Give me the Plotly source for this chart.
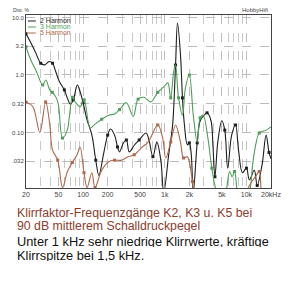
import plotly.graph_objects as go

# ---- data ----
k2_freq = [20, 23, 26.4, 30.3, 33.9, 38.4, 42.3, 46, 51.4, 59, 64, 70, 76, 85, 92, 100, 112, 128, 143, 156,
           179, 200, 217, 243, 264, 279, 312, 339, 368, 423, 486, 590, 641, 716, 800, 895, 972, 1117, 1248,
           1356, 1433, 1559, 1648, 1742, 1892, 2000, 2114, 2234, 2497, 2716, 3034, 3297, 3684, 3890, 4113,
           4470, 4999, 5432, 5902, 6593, 7363, 8000, 8951, 10000, 10870, 12480, 13560, 15580, 17420, 18920, 20000]
k2_vals = [5.2, 3.6, 2.4, 1.6, 1.5, 1.72, 1.6, 1.17, 0.76, 0.55, 0.40, 0.31, 0.37, 0.67, 0.51, 0.33, 0.165,
           0.091, 0.033, 0.018, 0.044, 0.09, 0.115, 0.09, 0.056, 0.046, 0.066, 0.074, 0.046, 0.06, 0.074, 0.098,
           0.074, 0.038, 0.068, 0.033, 0.009, 0.041, 0.135, 1.49, 8.0, 2.23, 0.40, 0.135, 0.061, 0.066, 0.041,
           0.009, 0.066, 0.16, 0.2, 0.22, 0.16, 0.06, 0.017, 0.07, 0.16, 0.11, 0.024, 0.09, 0.135, 0.05, 0.02,
           0.024, 0.015, 0.022, 0.012, 0.028, 0.09, 0.045, 0.035]

k3_freq = [20, 23, 27, 32, 35, 39, 42, 47, 50, 56, 64, 68, 74, 80, 92, 103, 122, 140, 169, 206, 243, 279,
           339, 411, 472, 556, 676, 822, 972, 1090, 1183, 1284, 1356, 1475, 1648, 1790, 2000, 2234, 2497,
           2716, 2950, 3376, 3770, 4330, 5000, 5600, 6230, 6700, 7160, 7780, 9000, 10870, 12000, 13200,
           14370, 17420, 20000]
k3_vals = [3.1, 1.8, 1.13, 0.67, 0.82, 0.55, 0.5, 0.4, 0.3, 0.08, 0.11, 0.19, 0.41, 0.34, 0.28, 0.37, 0.12,
           0.14, 0.17, 0.2, 0.21, 0.25, 0.33, 0.19, 0.38, 0.41, 0.34, 0.5, 0.62, 0.73, 0.4, 1.13, 1.5, 0.4,
           0.2, 0.59, 1.0, 0.2, 0.068, 0.18, 0.2, 0.08, 0.024, 0.009, 0.006, 0.009, 0.021, 0.017, 0.021, 0.009,
           0.005, 0.009, 0.03, 0.068, 0.098, 0.11, 0.125]

k5_freq = [20, 24.3, 29.5, 34.8, 38.9, 42.2, 48.9, 56.1, 64.3, 73.8, 84.4, 91.9, 102.6, 112, 128, 140, 169,
           206, 243, 294, 357, 423, 514, 625, 822, 944, 1028, 1183, 1356, 1559, 1702, 1892, 2000, 2187, 2370,
           4000, 8000, 10870, 13200, 14370, 15580, 20000]
k5_vals = [0.34, 0.28, 0.10, 0.34, 0.146, 0.05, 0.033, 0.011, 0.021, 0.030, 0.041, 0.056, 0.02, 0.011, 0.02,
           0.011, 0.022, 0.031, 0.033, 0.033, 0.038, 0.041, 0.054, 0.068, 0.135, 0.08, 0.036, 0.068, 0.135,
           0.068, 0.036, 0.038, 0.031, 0.014, 0.007, 0.004, 0.005, 0.012, 0.018, 0.021, 0.008, 0.004]

series_names = ["2 Harmon", "3 Harmon", "5 Harmon"]
series_colors = ["#1e1e1e", "#4e9e58", "#b0664c"]

x_tickvals = [20, 50, 100, 200, 500, 1000, 2000, 5000, 10000, 20000]
x_ticktext = ["20", "50", "100", "200", "500", "1k", "2k", "5k", "10k", "20kHz"]
y_tickvals = [10, 3.162, 1, 0.3162, 0.1, 0.03162]
y_ticktext = ["10.0", "3.2", "1.0", "0.32", "0.10", ".032"]

caption = ["Klirrfaktor-Frequenzgänge K2, K3 u. K5 bei",
           "90 dB mittlerem Schalldruckpegel",
           "Unter 1 kHz sehr niedrige Klirrwerte, kräftige",
           "Klirrspitze bei 1,5 kHz."]

# ---- figure ----
W, H = 293, 283
ML, MR, MT, MB = 23, 21, 15, 95
PH = H - MT - MB


def py2paper(py):
    return (H - MB - py) / PH


def px2paper(px):
    return (px - ML) / (W - ML - MR)


fig = go.Figure()
for f, v, name, col in zip([k2_freq, k3_freq, k5_freq], [k2_vals, k3_vals, k5_vals], series_names, series_colors):
    fig.add_trace(go.Scatter(x=f, y=v, mode="lines", name=name,
                             line=dict(color=col, width=1.1, shape="spline", smoothing=1.0),
                             showlegend=False))
    fig.add_trace(go.Scatter(x=f[::3], y=v[::3], mode="markers", name=name,
                             marker=dict(color=col, size=3, symbol="square"), showlegend=False))

minor_x = [v * m for m in (10, 100, 1000) for v in range(2, 10)] + [20000]
fig.update_xaxes(type="log", range=[1.30103, 4.30103], tickvals=x_tickvals, ticktext=x_ticktext,
                 showgrid=True, gridcolor="#bdbdbd", griddash="dash", gridwidth=0.6,
                 minor=dict(tickvals=minor_x, showgrid=True, gridcolor="#c8c8c8", griddash="dash",
                            gridwidth=0.6, ticks=""),
                 showline=True, linecolor="#444", linewidth=1, mirror=True, ticks="",
                 tickfont=dict(family="Liberation Sans", size=7, color="#444"), zeroline=False)
fig.update_yaxes(type="log", range=[-1.965, 1.043], tickvals=y_tickvals, ticktext=y_ticktext,
                 showgrid=True, gridcolor="#bdbdbd", griddash="dash", gridwidth=0.6,
                 showline=True, linecolor="#444", linewidth=1, mirror=True, ticks="",
                 tickfont=dict(family="Liberation Sans", size=6, color="#444"), zeroline=False)

ann = []
# legend
leg_y = [21, 27, 33]
shapes = []
for name, col, ly in zip(series_names, series_colors, leg_y):
    shapes.append(dict(type="line", xref="paper", yref="paper", x0=px2paper(25), x1=px2paper(33),
                       y0=py2paper(ly), y1=py2paper(ly), line=dict(color=col, width=1)))
    ann.append(dict(text=name, xref="paper", yref="paper", x=px2paper(35), y=py2paper(ly),
                    xanchor="left", yanchor="middle", showarrow=False, height=7,
                    font=dict(family="Liberation Sans", size=7, color=col)))
ann.append(dict(text="Dist. %", xref="paper", yref="paper", x=px2paper(8), y=py2paper(10),
                xanchor="left", yanchor="middle", showarrow=False,
                font=dict(family="Liberation Sans", size=5, color="#444")))
ann.append(dict(text="HobbyHifi", xref="paper", yref="paper", x=px2paper(271), y=py2paper(10),
                xanchor="right", yanchor="middle", showarrow=False,
                font=dict(family="Liberation Sans", size=6, color="#444")))

cap_y = [212.5, 225.5, 241, 255]
cap_col = ["#8b3d2e", "#8b3d2e", "#111", "#111"]
cap_size = [12.3, 12.3, 12.8, 12.8]
for t, cy, cc, cs in zip(caption, cap_y, cap_col, cap_size):
    ann.append(dict(text=t, xref="paper", yref="paper", x=px2paper(12), y=py2paper(cy),
                    xanchor="left", yanchor="middle", showarrow=False, height=12,
                    font=dict(family="Liberation Sans", size=cs, color=cc)))

fig.update_layout(width=W, height=H, margin=dict(l=ML, r=MR, t=MT, b=MB),
                  paper_bgcolor="white", plot_bgcolor="white", annotations=ann, shapes=shapes,
                  showlegend=False)
fig.write_html("out.html")
